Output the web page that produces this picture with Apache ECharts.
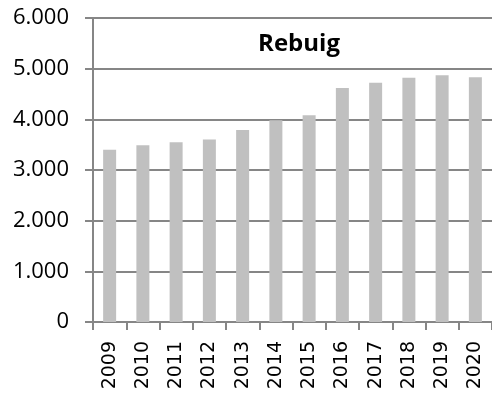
<!DOCTYPE html>
<html>
<head>
<meta charset="utf-8">
<style>
  html, body { margin: 0; padding: 0; background: #ffffff; }
  #chart { width: 492px; height: 394px; }
</style>
<script src="https://cdn.jsdelivr.net/npm/echarts@6/dist/echarts.min.js"></script>
</head>
<body>
<div id="chart"></div>
<script>
// Yearly totals for "Rebuig"
const years = ['2009', '2010', '2011', '2012', '2013', '2014', '2015', '2016', '2017', '2018', '2019', '2020'];
const rebuig = [3400, 3490, 3550, 3600, 3790, 3980, 4080, 4620, 4720, 4820, 4870, 4830];
const chartTitle = 'Rebuig';

// Thousands separator with a dot (6.000)
function fmt(v) {
  return String(v).replace(/\B(?=(\d{3})+(?!\d))/g, '.');
}

const chart = echarts.init(document.getElementById('chart'), null, { renderer: 'canvas' });

chart.setOption({
  animation: false,
  backgroundColor: '#ffffff',
  title: {
    text: chartTitle,
    left: 294,
    top: 27,
    textAlign: 'center',
    textStyle: {
      fontFamily: 'Open Sans',
      fontWeight: 'bold',
      fontSize: 24,
      color: '#000000'
    }
  },
  grid: {
    left: 93,
    right: -3,
    top: 18,
    bottom: 72,
    containLabel: false
  },
  xAxis: {
    type: 'category',
    data: years,
    boundaryGap: true,
    axisLine: { show: true, lineStyle: { color: '#868686', width: 2 } },
    axisTick: { show: true, alignWithLabel: false, length: 8, lineStyle: { color: '#868686', width: 2 } },
    axisLabel: {
      rotate: 90,
      margin: 19,
      interval: 0,
      color: '#000000',
      fontFamily: 'DejaVu Sans',
      fontSize: 19
    },
    splitLine: { show: false }
  },
  yAxis: {
    type: 'value',
    min: 0,
    max: 6000,
    interval: 1000,
    axisLine: { show: true, lineStyle: { color: '#868686', width: 2 } },
    axisTick: { show: true, length: 8, lineStyle: { color: '#868686', width: 2 } },
    axisLabel: {
      margin: 24,
      color: '#000000',
      fontFamily: 'Open Sans',
      fontSize: 22,
      formatter: fmt
    },
    splitLine: { show: true, lineStyle: { color: '#868686', width: 2 } }
  },
  series: [{
    type: 'bar',
    data: rebuig,
    barWidth: 13,
    itemStyle: { color: '#c0c0c0' }
  }]
});
</script>
</body>
</html>
